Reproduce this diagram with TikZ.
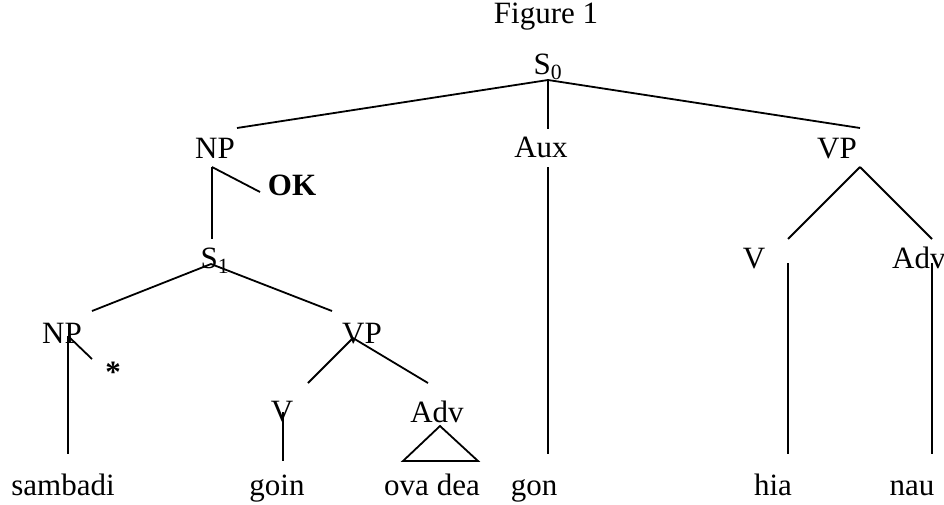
\documentclass[tikz,border=0pt]{standalone}
\usepackage{fontspec}
\setmainfont{Liberation Serif}
\tikzstyle{cat}=[inner sep=0pt,anchor=base,font=\fontsize{31}{36}\selectfont]
\tikzstyle{edge}=[line width=1.8pt]

\begin{document}
\begin{tikzpicture}[x=1pt,y=-1pt]
  \useasboundingbox (0,0) rectangle (944,504);

  % labels
  \node [cat] (fig) at (546,23) {Figure 1};
  \node [cat] (s0) at (548,74) {S\textsubscript{0}};
  \node [cat] (np0) at (215,158) {NP};
  \node [cat] (aux) at (541,157) {Aux};
  \node [cat] (vp0) at (837,158) {VP};
  \node [cat] (ok) at (292,195) {\textbf{OK}};
  \node [cat] (s1) at (215,268) {S\textsubscript{1}};
  \node [cat] (v0) at (754,268) {V};
  \node [cat,anchor=base west] (adv0) at (892,268) {Adv};
  \node [cat] (np1) at (62,343) {NP};
  \node [cat] (vp1) at (362,343) {VP};
  \node [cat] (star) at (113,382) {\textbf{*}};
  \node [cat] (v1) at (282,421) {V};
  \node [cat] (adv1) at (437,422) {Adv};

  \node [cat] (sambadi) at (63,495) {sambadi};
  \node [cat] (goin) at (277,495) {goin};
  \node [cat] (ovadea) at (432,495) {ova dea};
  \node [cat] (gon) at (534,495) {gon};
  \node [cat] (hia) at (773,495) {hia};
  \node [cat] (nau) at (912,495) {nau};

  % branch ends
  \coordinate (s0-j) at (548,80);
  \coordinate (np0-up) at (237,128);
  \coordinate (aux-up) at (548,129);
  \coordinate (vp0-up) at (860,128);
  \coordinate (np0-j) at (212,167);
  \coordinate (ok-end) at (260,192);
  \coordinate (s1-up) at (212,239);
  \coordinate (s1-j) at (211,264);
  \coordinate (np1-up) at (92,311);
  \coordinate (vp1-up) at (332,311);
  \coordinate (np1-j) at (68,336);
  \coordinate (star-end) at (92,359);
  \coordinate (sambadi-up) at (68,454);
  \coordinate (vp1-j) at (353,338);
  \coordinate (v1-up) at (308,383);
  \coordinate (adv1-up) at (428,383);
  \coordinate (v1-j) at (283,412);
  \coordinate (goin-up) at (283,461);
  \coordinate (tri-top) at (440,426);
  \coordinate (tri-l) at (403,461);
  \coordinate (tri-r) at (478,461);
  \coordinate (aux-j) at (548,167);
  \coordinate (gon-up) at (548,454);
  \coordinate (vp0-j) at (860,167);
  \coordinate (v0-up) at (788,239);
  \coordinate (adv0-up) at (932,239);
  \coordinate (v0-j) at (788,263);
  \coordinate (hia-up) at (788,454);
  \coordinate (adv0-j) at (932,263);
  \coordinate (nau-up) at (932,454);

  \draw [edge] (s0-j) -- (np0-up);
  \draw [edge] (s0-j) -- (aux-up);
  \draw [edge] (s0-j) -- (vp0-up);
  \draw [edge] (np0-j) -- (ok-end);
  \draw [edge] (np0-j) -- (s1-up);
  \draw [edge] (s1-j) -- (np1-up);
  \draw [edge] (s1-j) -- (vp1-up);
  \draw [edge] (np1-j) -- (star-end);
  \draw [edge] (np1-j) -- (sambadi-up);
  \draw [edge] (vp1-j) -- (v1-up);
  \draw [edge] (vp1-j) -- (adv1-up);
  \draw [edge] (v1-j) -- (goin-up);
  \draw [edge] (tri-top) -- (tri-l) -- (tri-r) -- cycle;
  \draw [edge] (aux-j) -- (gon-up);
  \draw [edge] (vp0-j) -- (v0-up);
  \draw [edge] (vp0-j) -- (adv0-up);
  \draw [edge] (v0-j) -- (hia-up);
  \draw [edge] (adv0-j) -- (nau-up);
\end{tikzpicture}
\end{document}
